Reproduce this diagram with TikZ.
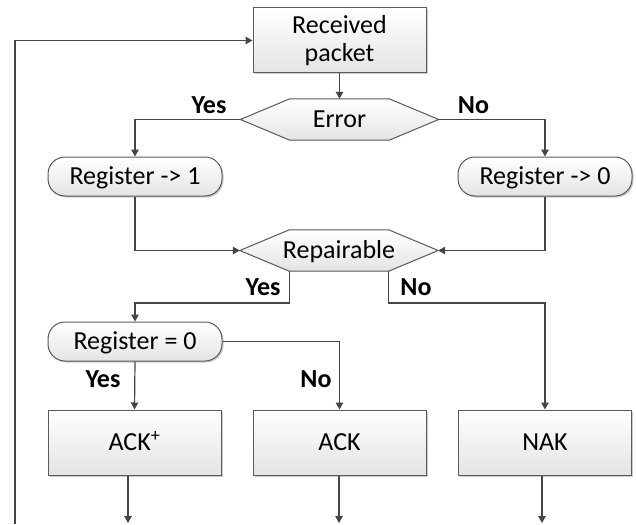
\documentclass[tikz,border=0pt]{standalone}
\usepackage{fontspec}
\setmainfont{Carlito}
\usetikzlibrary{arrows.meta,shadows,backgrounds,calc}
\definecolor{lc}{HTML}{454545}
\definecolor{bc}{HTML}{5A5A5A}
\definecolor{gfill}{HTML}{E4E4E4}
\begin{document}
\begin{tikzpicture}[x=1pt,y=-1pt,
  line/.style={draw=lc, line width=1.2pt},
  arr/.style={line, -{Triangle[length=7pt,width=7.5pt]}},
  shad/.style={drop shadow={shadow xshift=1.5pt,shadow yshift=-1.5pt,fill=black!40,opacity=0.5}},
  txt/.style={font=\fontsize{26}{27.5}\selectfont, text=black},
  capc/.style={text height=16.7pt, text depth=0pt},
  box/.style={txt, draw=bc, line width=1pt, top color=white, bottom color=gfill,
    minimum width=173pt, minimum height=65pt, inner sep=0pt, align=center, shad},
  rbox/.style={box, capc, rounded corners=17pt, minimum width=174pt, minimum height=39pt},
  hexn/.style={txt, capc, minimum width=198pt, minimum height=41pt, inner sep=0pt},
  hexdraw/.style={draw=bc, line width=1pt, top color=white, bottom color=gfill},
  lab/.style={font=\bfseries\fontsize{26}{27.5}\selectfont, text=black, inner sep=0pt}]
\useasboundingbox (0,0) rectangle (636,524);

% nodes
\node[box] (rp) at (339.5,40.5) {Received\\packet};
\node[hexn] (err) at (339.5,119.5) {Error};
\node[rbox] (reg1) at (135,176.5) {Register -> 1};
\node[rbox] (reg0) at (545,176.5) {Register -> 0};
\node[hexn] (rep) at (339,250.5) {Repairable};
\node[rbox] (regz) at (135,341.5) {Register = 0};
\node[box,capc] (acka) at (134.5,442.5) {ACK\textsuperscript{+}};
\node[box,capc] (ackb) at (339.5,442.5) {ACK};
\node[box,capc] (nak) at (545,442.5) {NAK};

% hexagon outlines
\begin{scope}[on background layer]
\foreach \n in {err,rep}{
  \fill[black!40,opacity=0.5,shift={(1.5,1.5)}] (\n.west) -- ([xshift=49.5pt]\n.north west) -- ([xshift=-49.5pt]\n.north east) -- (\n.east) -- ([xshift=-49.5pt]\n.south east) -- ([xshift=49.5pt]\n.south west) -- cycle;
  \shadedraw[hexdraw] (\n.west) -- ([xshift=49.5pt]\n.north west) -- ([xshift=-49.5pt]\n.north east) -- (\n.east) -- ([xshift=-49.5pt]\n.south east) -- ([xshift=49.5pt]\n.south west) -- cycle;
}
\end{scope}

% helper coordinates
\coordinate (repL) at ([xshift=49.5pt]rep.south west);
\coordinate (repR) at ([xshift=-49.5pt]rep.south east);
\coordinate (jy) at (0,303);
\coordinate (o1) at (128,523);
\coordinate (o2) at (339,523);
\coordinate (o3) at (542,523);
\coordinate (lb) at (15,524);

% connectors
\draw[arr] (rp.south) -- (err.north);
\draw[arr] (err.west) -| (reg1.north);
\draw[arr] (err.east) -| (reg0.north);
\draw[arr] (reg1.south) |- (rep.west);
\draw[arr] (reg0.south) |- (rep.east);
\draw[arr] (repL) -- (repL |- jy) -| (regz.north);
\draw[arr] (repR) -- (repR |- jy) -| (nak.north);
\draw[arr] (regz.south) -- (acka.north);
\draw[arr] (regz.east) -| (ackb.north);
\draw[arr] (acka.south -| o1) -- (o1);
\draw[arr] (ackb.south -| o2) -- (o2);
\draw[arr] (nak.south -| o3) -- (o3);
\draw[arr] (lb) |- (rp.west);

% labels
\node[lab] (l1) at (209,105) {Yes};
\node[lab] (l2) at (473.5,105) {No};
\node[lab] (l3) at (263,287) {Yes};
\node[lab] (l4) at (416,287) {No};
\node[lab] (l5) at (103,379) {Yes};
\node[lab] (l6) at (316,379) {No};
\end{tikzpicture}
\end{document}
